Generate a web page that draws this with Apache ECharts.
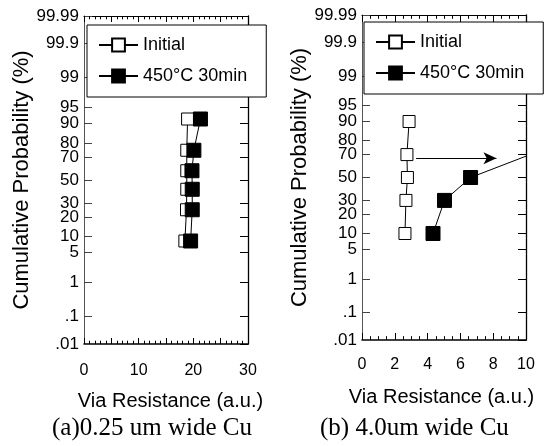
<!DOCTYPE html>
<html><head><meta charset="utf-8">
<script src="https://cdn.jsdelivr.net/npm/echarts@6/dist/echarts.min.js"></script>
<style>html,body{margin:0;padding:0;background:#fff}#c{width:551px;height:446px}</style>
</head><body><div id="c"></div>
<script>
// ---- data (cumulative probability in %, via resistance in a.u.) ----
const probTickLabels = ['99.99','99.9','99','95','90','80','70','50','30','20','10','5','1','.1','.01'];
const probTickValues = [99.99, 99.9, 99, 95, 90, 80, 70, 50, 30, 20, 10, 5, 1, 0.1, 0.01];

const probA = [8.33, 25, 41.67, 58.33, 75, 91.67];
const initialA = [18.45, 18.75, 18.8, 18.8, 18.8, 18.95];
const annealedA = [19.5, 19.8, 19.8, 19.75, 20.1, 21.3];

const probB = [10, 30, 50, 70, 90];
const initialB = [2.62, 2.68, 2.77, 2.74, 2.87];
const annealedB = [4.33, 5.03, 6.62, 10.25];

const arrowX = [3.3, 8.2];
const arrowProb = 67;

const seriesNames = ['Initial', '450°C 30min'];
const captions = ['(a)0.25 um wide Cu', '(b) 4.0um wide Cu'];

// ---- probability (normal) scale transform ----
function normInv(p){
  const a=[-3.969683028665376e+01,2.209460984245205e+02,-2.759285104469687e+02,1.383577518672690e+02,-3.066479806614716e+01,2.506628277459239e+00];
  const b=[-5.447609879822406e+01,1.615858368580409e+02,-1.556989798598866e+02,6.680131188771972e+01,-1.328068155288572e+01];
  const c=[-7.784894002430293e-03,-3.223964580411365e-01,-2.400758277161838e+00,-2.549671348358109e+00,4.374664141464968e+00,2.938163982698783e+00];
  const d=[7.784695709041462e-03,3.224671290700398e-01,2.445134137142996e+00,3.754408661907416e+00];
  const pl=0.02425, ph=1-pl; let q,r;
  if(p<pl){q=Math.sqrt(-2*Math.log(p));return (((((c[0]*q+c[1])*q+c[2])*q+c[3])*q+c[4])*q+c[5])/((((d[0]*q+d[1])*q+d[2])*q+d[3])*q+1);}
  if(p<=ph){q=p-0.5;r=q*q;return (((((a[0]*r+a[1])*r+a[2])*r+a[3])*r+a[4])*r+a[5])*q/(((((b[0]*r+b[1])*r+b[2])*r+b[3])*r+b[4])*r+1);}
  q=Math.sqrt(-2*Math.log(1-p));return -(((((c[0]*q+c[1])*q+c[2])*q+c[3])*q+c[4])*q+c[5])/((((d[0]*q+d[1])*q+d[2])*q+d[3])*q+1);
}
const z = pct => normInv(pct/100);
const zTicks = probTickValues.map(z);
const zMin = z(0.01), zMax = z(99.99);
function probLabel(v){
  for (let i=0;i<zTicks.length;i++) if (Math.abs(zTicks[i]-v) < 1e-6) return probTickLabels[i];
  return '';
}

const SANS = 'Liberation Sans';

function yAxisCfg(gridIndex, pos, nameGap){
  const left = pos === 'left';
  return {
    type:'value', gridIndex, position:pos, min:zMin, max:zMax,
    axisLine:{show:true, onZero:false, lineStyle:{color: left ? '#555' : '#000', width: left ? 1 : 1.3}},
    axisTick:{show:true, inside:true, length:8, customValues:zTicks, lineStyle:{color: left ? '#444' : '#000', width:1}},
    axisLabel:{show:left, customValues:zTicks, formatter:probLabel, margin:5, fontSize:17, fontFamily:SANS, color:'#000'},
    splitLine:{show:false},
    name: left ? 'Cumulative Probability (%)' : '',
    nameLocation:'middle', nameGap:nameGap,
    nameTextStyle:{fontSize:22, fontFamily:SANS, color:'#000'}
  };
}
function xAxisCfg(gridIndex, pos, max, interval, minorSplit, labelFmt, tickLen, margin, namePad){
  const bottom = pos === 'bottom';
  return {
    type:'value', gridIndex, position:pos, min:0, max, interval,
    axisLine:{show:true, onZero:false, lineStyle:{color:'#000', width: bottom ? 1.6 : 1.2}},
    axisTick:{show:true, inside:true, length:tickLen, lineStyle:{color:'#000', width:1}},
    minorTick:{show:true, splitNumber:minorSplit, length:tickLen*0.55, lineStyle:{color:'#000', width:1}},
    axisLabel:{show:bottom, formatter:labelFmt, margin, fontSize:16, fontFamily:SANS, color:'#000'},
    splitLine:{show:false}, minorSplitLine:{show:false},
    name: bottom ? 'Via Resistance (a.u.)' : '',
    nameLocation:'middle', nameGap:47,
    nameTextStyle:{fontSize:20, fontFamily:SANS, color:'#000', padding:namePad}
  };
}
function legendCfg(left, top){
  return {
    data: seriesNames, orient:'vertical', left, top,
    itemWidth:39, itemHeight:16, itemGap:13,
    padding:[11,19,12,11],
    borderColor:'#000', borderWidth:1, borderRadius:0, backgroundColor:'#fff',
    selectedMode:false,
    textStyle:{fontFamily:SANS, fontSize:18, color:'#000'}
  };
}
function openSeries(xi, yi, xs, ps, extra){
  return Object.assign({
    name:seriesNames[0], type:'line', xAxisIndex:xi, yAxisIndex:yi,
    data: xs.map((x,i)=>[x, z(ps[i])]),
    symbol:'rect', symbolSize:12, clip:true,
    itemStyle:{color:'#fff', borderColor:'#000', borderWidth:1},
    lineStyle:{color:'#000', width:1}, z:2
  }, extra || {});
}
function filledSeries(xi, yi, xs, ps){
  return {
    name:seriesNames[1], type:'line', xAxisIndex:xi, yAxisIndex:yi,
    data: xs.map((x,i)=>[x, z(ps[i])]),
    symbol:'rect', symbolSize:14, clip:true,
    itemStyle:{color:'#000', borderColor:'#000', borderWidth:1},
    lineStyle:{color:'#000', width:1}, z:3
  };
}

const chart = echarts.init(document.getElementById('c'), null, {renderer:'canvas'});
chart.setOption({
  animation:false,
  backgroundColor:'#fff',
  title:[
    {text:captions[0], left:52, top:416, padding:0, textStyle:{fontFamily:'Liberation Serif', fontSize:25, fontWeight:'normal', color:'#000'}},
    {text:captions[1], left:320, top:416, padding:0, textStyle:{fontFamily:'Liberation Serif', fontSize:25, fontWeight:'normal', color:'#000'}}
  ],
  legend:[legendCfg(87,25), legendCfg(364,22)],
  grid:[
    {left:84, top:16, width:164, height:328, containLabel:false},
    {left:362, top:15, width:164, height:325, containLabel:false}
  ],
  xAxis:[
    xAxisCfg(0,'bottom',30,5,5, v => (v % 10 === 0 ? String(v) : ''), 6, 19, [0,0,0,9]),
    xAxisCfg(0,'top',30,5,5, v => '', 6, 19, 0),
    xAxisCfg(1,'bottom',10,2,4, v => String(v), 7, 17, [0,5,0,0]),
    xAxisCfg(1,'top',10,2,4, v => '', 7, 17, 0)
  ],
  yAxis:[
    yAxisCfg(0,'left',46),
    yAxisCfg(0,'right',0),
    yAxisCfg(1,'left',50),
    yAxisCfg(1,'right',0)
  ],
  series:[
    openSeries(0,0,initialA,probA),
    filledSeries(0,0,annealedA,probA),
    openSeries(2,2,initialB,probB,{
      markLine:{
        silent:true, symbol:['none','arrow'], symbolSize:[9,13], animation:false,
        label:{show:false},
        lineStyle:{color:'#000', width:1, type:'solid'},
        emphasis:{disabled:true},
        data:[[{coord:[arrowX[0], z(arrowProb)]},{coord:[arrowX[1], z(arrowProb)]}]]
      }
    }),
    filledSeries(2,2,annealedB,probB)
  ]
});
</script></body></html>
